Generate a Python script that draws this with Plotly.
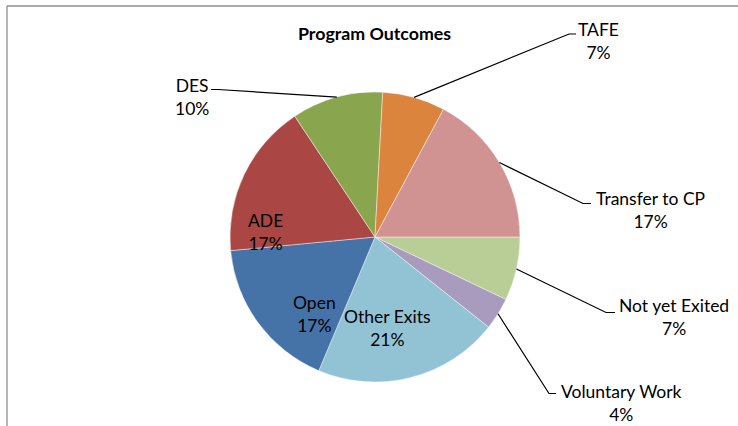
import math
import plotly.graph_objects as go

# ---- data (order clockwise starting at 3 o'clock) ----
labels = ["Not yet Exited", "Voluntary Work", "Other Exits", "Open", "ADE", "DES", "TAFE", "Transfer to CP"]
values = [7.1, 3.6, 20.7, 17.2, 17.2, 10.2, 7.0, 17.2]
colors = ["#B9CD96", "#A99BBD", "#92C3D4", "#4572A7", "#AA4643", "#89A54E", "#DB843D", "#D19392"]
title = "Program Outcomes"

W, H = 738, 426
CX, CY, R = 375, 237, 145      # pie centre / radius in pixels
START = 90                     # first slice begins at 3 o'clock
FONT = "Lato, Calibri, sans-serif"

def px(x):
    return x / W

def py(y):
    return 1 - y / H

fig = go.Figure(go.Pie(
    labels=labels, values=values, sort=False, direction="clockwise", rotation=START,
    marker=dict(colors=colors, line=dict(color="rgba(255,255,255,0.55)", width=0.8)),
    textinfo="none", hoverinfo="label+percent", showlegend=False,
    domain=dict(x=[px(CX - R), px(CX + R)], y=[py(CY + R), py(CY - R)]),
))

# label block centres and leader-line geometry (pixels)
label_pos = {
    "TAFE": (598, 41, (569, 34), (576, 34)),
    "Transfer to CP": (650, 210, (583, 203.5), (591, 203.5)),
    "Not yet Exited": (674, 317, (606, 312.5), (615, 312.5)),
    "Voluntary Work": (621, 403, (549, 393.5), (556, 393.5)),
    "DES": (192, 97, (218, 89.5), (211, 89.5)),
    "ADE": (265, 232, None, None),
    "Open": (314, 314, None, None),
    "Other Exits": (387, 328, None, None),
}

total = sum(values)
ann = []
shapes = []
acc = 0.0
for lab, v in zip(labels, values):
    mid = START + (acc + v / 2) / total * 360
    acc += v
    pct = round(v / total * 100)
    x, y, bend, tail = label_pos[lab]
    ann.append(dict(x=px(x), y=py(y), xref="paper", yref="paper", showarrow=False,
                    xanchor="center", yanchor="middle",
                    text=f"{lab}<br>{pct}%", align="center",
                    font=dict(family=FONT, size=17.5, color="#000000")))
    if bend is not None:
        ex = CX + R * math.sin(math.radians(mid))
        ey = CY - R * math.cos(math.radians(mid))
        path = f"M {px(ex)} {py(ey)} L {px(bend[0])} {py(bend[1])} L {px(tail[0])} {py(tail[1])}"
        shapes.append(dict(type="path", xref="paper", yref="paper", path=path,
                           line=dict(color="#000000", width=1.2)))

ann.append(dict(x=px(374), y=py(33), xref="paper", yref="paper", showarrow=False,
                xanchor="center", yanchor="middle",
                text=f"<b>{title}</b>",
                font=dict(family=FONT, size=17.8, color="#000000")))

# chart-area border (top and left edges visible)
shapes.append(dict(type="line", xref="paper", yref="paper", x0=px(7), x1=1, y0=py(6), y1=py(6),
                   line=dict(color="#8E8E8E", width=1.3)))
shapes.append(dict(type="line", xref="paper", yref="paper", x0=px(7), x1=px(7), y0=py(6), y1=0,
                   line=dict(color="#8E8E8E", width=1.3)))

fig.update_layout(width=W, height=H, margin=dict(l=0, r=0, t=0, b=0),
                  paper_bgcolor="white", plot_bgcolor="white",
                  annotations=ann, shapes=shapes)
fig.write_html("out.html", config={"displayModeBar": False},
               post_script="document.body.style.margin='0';document.body.style.overflow='hidden';")
